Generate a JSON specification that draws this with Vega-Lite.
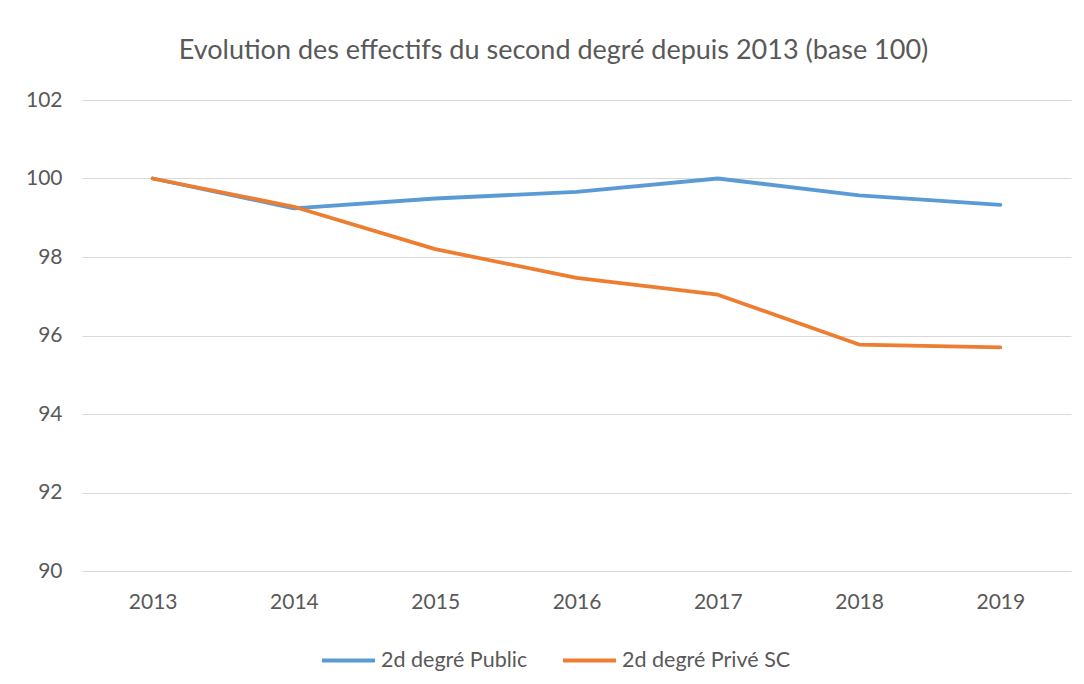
{
  "$schema": "https://vega.github.io/schema/vega-lite/v6.json",
  "width": 989,
  "height": 471,
  "autosize": "none",
  "padding": {"left": 82, "top": 100, "right": 13, "bottom": 113},
  "background": "white",
  "title": {
    "text": "Evolution des effectifs du second degré depuis 2013 (base 100)",
    "font": "Lato",
    "fontSize": 27,
    "fontWeight": "normal",
    "color": "#595959",
    "anchor": "middle",
    "frame": "group",
    "dx": -23,
    "offset": 24
  },
  "data": {
    "values": [
      {"annee": "2013", "serie": "2d degré Public", "valeur": 100},
      {"annee": "2014", "serie": "2d degré Public", "valeur": 99.24},
      {"annee": "2015", "serie": "2d degré Public", "valeur": 99.49},
      {"annee": "2016", "serie": "2d degré Public", "valeur": 99.66},
      {"annee": "2017", "serie": "2d degré Public", "valeur": 100},
      {"annee": "2018", "serie": "2d degré Public", "valeur": 99.57},
      {"annee": "2019", "serie": "2d degré Public", "valeur": 99.33},
      {"annee": "2013", "serie": "2d degré Privé SC", "valeur": 100},
      {"annee": "2014", "serie": "2d degré Privé SC", "valeur": 99.28},
      {"annee": "2015", "serie": "2d degré Privé SC", "valeur": 98.2},
      {"annee": "2016", "serie": "2d degré Privé SC", "valeur": 97.47},
      {"annee": "2017", "serie": "2d degré Privé SC", "valeur": 97.04},
      {"annee": "2018", "serie": "2d degré Privé SC", "valeur": 95.77},
      {"annee": "2019", "serie": "2d degré Privé SC", "valeur": 95.7}
    ]
  },
  "mark": {"type": "line", "strokeWidth": 3.8, "strokeCap": "round", "strokeJoin": "round"},
  "encoding": {
    "x": {
      "field": "annee",
      "type": "ordinal",
      "scale": {"type": "point", "padding": 0.5},
      "axis": {
        "title": null,
        "labelAngle": 0,
        "domain": false,
        "ticks": false,
        "grid": false,
        "labelFont": "Lato",
        "labelFontSize": 21,
        "labelColor": "#595959",
        "labelPadding": 20
      }
    },
    "y": {
      "field": "valeur",
      "type": "quantitative",
      "scale": {"domain": [90, 102], "nice": false, "zero": false},
      "axis": {
        "title": null,
        "values": [90, 92, 94, 96, 98, 100, 102],
        "domain": false,
        "ticks": false,
        "grid": true,
        "gridColor": "#D9D9D9",
        "gridWidth": 1,
        "labelFont": "Lato",
        "labelFontSize": 21,
        "labelColor": "#595959",
        "labelPadding": 20
      }
    },
    "color": {
      "field": "serie",
      "type": "nominal",
      "sort": ["2d degré Public", "2d degré Privé SC"],
      "scale": {"domain": ["2d degré Public", "2d degré Privé SC"], "range": ["#5B9BD5", "#ED7D31"]},
      "legend": {
        "title": null,
        "orient": "none",
        "direction": "horizontal",
        "legendX": 238,
        "legendY": 532,
        "symbolType": "stroke",
        "symbolSize": 2809,
        "symbolStrokeWidth": 4,
        "labelFont": "Lato",
        "labelFontSize": 21.5,
        "labelColor": "#595959",
        "labelLimit": 400,
        "columnPadding": 27,
        "labelOffset": 4
      }
    }
  },
  "config": {
    "view": {"stroke": null}
  }
}
